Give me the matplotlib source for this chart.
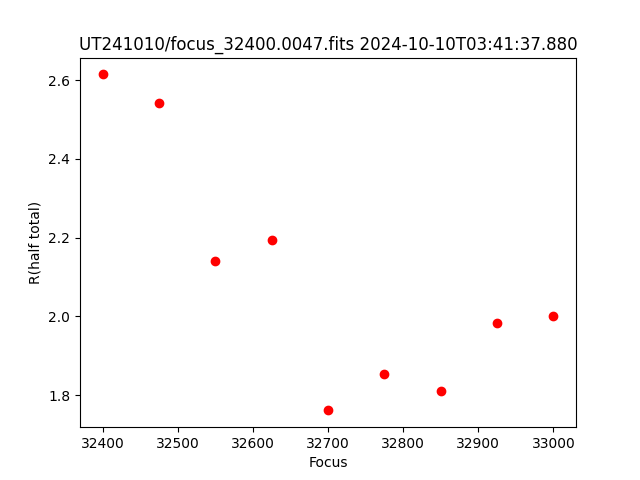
import matplotlib
matplotlib.use("Agg")
import matplotlib.pyplot as plt

# focus positions and measured half-total radius
focus = [32400, 32475, 32550, 32625, 32700, 32775, 32850, 32925, 33000]
r_half = [2.615, 2.542, 2.141, 2.194, 1.761, 1.853, 1.810, 1.982, 2.000]

fig, ax = plt.subplots(figsize=(6.4, 4.8), dpi=100)
ax.plot(focus, r_half, "ro")
ax.set_xlabel("Focus")
ax.set_ylabel("R(half total)")
ax.set_title("UT241010/focus_32400.0047.fits 2024-10-10T03:41:37.880")
fig.savefig("out.png")
